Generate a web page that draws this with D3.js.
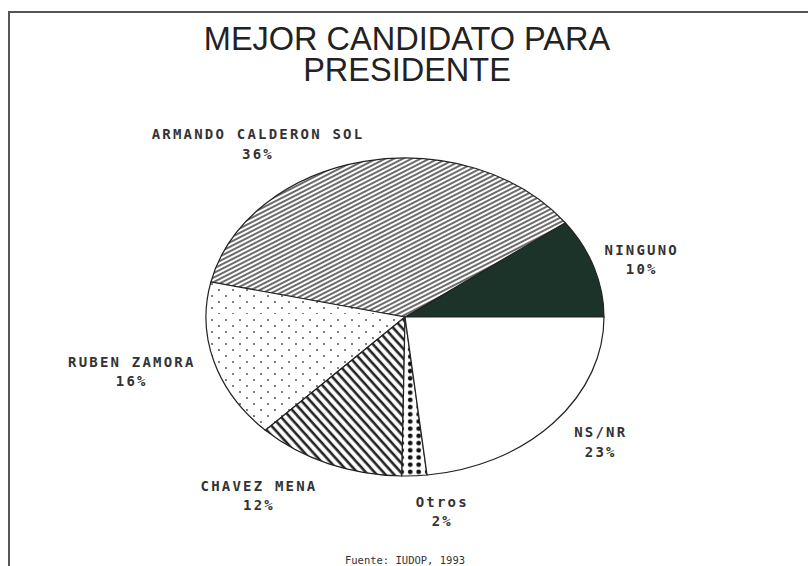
<!DOCTYPE html>
<html lang="es">
<head>
<meta charset="UTF-8">
<title>Mejor candidato para presidente</title>
<script src="https://cdn.jsdelivr.net/npm/d3@7"></script>
<style>
*{margin:0; padding:0;}
body{background:#fff;}
.lbl{font-family:"DejaVu Sans Mono", monospace; font-weight:bold; font-size:14px; fill:#333; letter-spacing:2.2px;}
.title{font-family:"Liberation Sans", Arial, sans-serif; font-size:32.5px; fill:#222;}
.src{font-family:"DejaVu Sans Mono", monospace; font-size:10.5px; fill:#333;}
</style>
</head>
<body>
<script>
// datos
var categories = ["NINGUNO", "ARMANDO CALDERON SOL", "RUBEN ZAMORA", "CHAVEZ MENA", "Otros", "NS/NR"];
var values = [10, 36, 16, 12, 2, 23];
var fills = ["#1c3329", "url(#hatchA)", "url(#dotsS)", "url(#hatchC)", "url(#dotsB)", "#fff"];
var titleLines = ["MEJOR CANDIDATO PARA", "PRESIDENTE"];
var source = "Fuente: IUDOP, 1993";

var width = 808, height = 566;
var cx = 405, cy = 317, rx = 199, ry = 159;
var k = ry / rx;

var svg = d3.select("body").append("svg")
	.attr("width", width)
	.attr("height", height);

// marco
svg.append("path")
	.attr("d", "M9," + height + "V12H" + width)
	.attr("fill", "none")
	.attr("stroke", "#555")
	.attr("stroke-width", 2);

// tramas
var defs = svg.append("defs");
var comp = "scale(1," + (1 / k) + ") ";

var pA = defs.append("pattern").attr("id", "hatchA")
	.attr("patternUnits", "userSpaceOnUse")
	.attr("width", 10).attr("height", 4)
	.attr("patternTransform", comp + "rotate(-27)");
pA.append("rect").attr("width", 10).attr("height", 4).attr("fill", "#fff");
pA.append("line").attr("x1", 0).attr("x2", 10).attr("y1", 2).attr("y2", 2)
	.attr("stroke", "#3a3a3a").attr("stroke-width", 1.5);

var pC = defs.append("pattern").attr("id", "hatchC")
	.attr("patternUnits", "userSpaceOnUse")
	.attr("width", 10).attr("height", 6.5)
	.attr("patternTransform", comp + "rotate(48)");
pC.append("rect").attr("width", 10).attr("height", 6.5).attr("fill", "#fff");
pC.append("line").attr("x1", 0).attr("x2", 10).attr("y1", 3).attr("y2", 3)
	.attr("stroke", "#222").attr("stroke-width", 2.6);

var pS = defs.append("pattern").attr("id", "dotsS")
	.attr("patternUnits", "userSpaceOnUse")
	.attr("width", 14).attr("height", 12)
	.attr("patternTransform", comp);
pS.append("rect").attr("width", 14).attr("height", 12).attr("fill", "#fff");
[[3, 3], [10, 9]].forEach(function(p){
	pS.append("circle").attr("cx", p[0]).attr("cy", p[1]).attr("r", 1)
		.attr("fill", "#555");
});

var pB = defs.append("pattern").attr("id", "dotsB")
	.attr("patternUnits", "userSpaceOnUse")
	.attr("width", 8.5).attr("height", 7.2)
	.attr("patternTransform", comp + "translate(1,0)");
pB.append("rect").attr("width", 8.5).attr("height", 7.2).attr("fill", "#fff");
pB.append("circle").attr("cx", 4.2).attr("cy", 3.6).attr("r", 2.3).attr("fill", "#111");

// pastel (sentido antihorario desde las 3)
var pie = d3.pie().sort(null).value(function(d){ return d; })
	.startAngle(Math.PI / 2)
	.endAngle(Math.PI / 2 - 2 * Math.PI);
var arcs = pie(values);
var arc = d3.arc().innerRadius(0).outerRadius(rx);

var g = svg.append("g")
	.attr("transform", "translate(" + cx + "," + cy + ") scale(1," + k + ")");
g.selectAll("path")
	.data(arcs)
	.enter()
	.append("path")
	.attr("d", arc)
	.attr("fill", function(d, i){ return fills[i]; })
	.attr("stroke", "#222")
	.attr("stroke-width", 1.2)
	.attr("vector-effect", "non-scaling-stroke");

// etiquetas
var labelArc = d3.arc().innerRadius(rx * 1.3).outerRadius(rx * 1.3);
var nudge = [[-9, 6], [-94, 28], [-25, -5], [-46, -13], [25, -13], [3, -14]];
var labels = svg.append("g");
arcs.forEach(function(d, i){
	var c = labelArc.centroid(d);
	var x = cx + c[0] + nudge[i][0];
	var y = cy + c[1] * k + nudge[i][1];
	var t = labels.append("text").attr("class", "lbl")
		.attr("text-anchor", "middle")
		.attr("x", x).attr("y", y);
	t.append("tspan").attr("x", x).attr("dy", "-0.25em").text(categories[i]);
	t.append("tspan").attr("x", x).attr("dy", "1.38em").text(values[i] + "%");
});

// titulo (un solo texto con dos lineas)
var title = svg.append("text")
	.attr("class", "title")
	.attr("text-anchor", "middle")
	.attr("x", 407)
	.attr("y", 50);
title.selectAll("tspan")
	.data(titleLines)
	.enter()
	.append("tspan")
	.attr("x", 407)
	.attr("dy", function(d, i){ return i ? 31 : 0; })
	.text(function(d){ return d; });

svg.append("text").attr("class", "src")
	.attr("text-anchor", "middle")
	.attr("x", 405).attr("y", 564)
	.text(source);
</script>
</body>
</html>
